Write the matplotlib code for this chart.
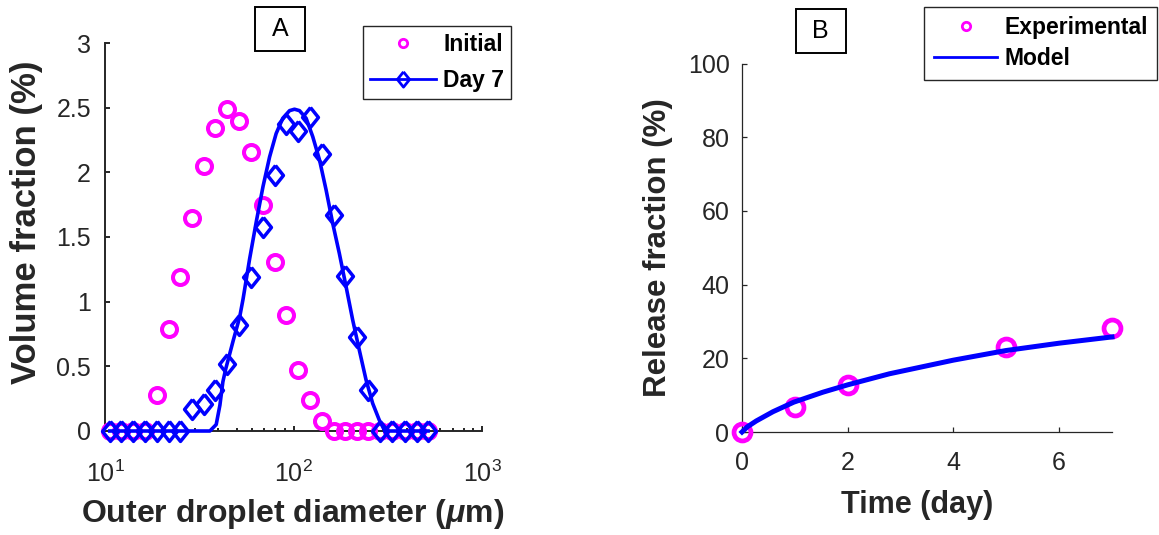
import matplotlib
matplotlib.use('Agg')
import matplotlib.pyplot as plt
from matplotlib.lines import Line2D
from matplotlib.patches import Rectangle

plt.rcParams['font.family'] = ['Liberation Sans', 'DejaVu Sans']
plt.rcParams['mathtext.fontset'] = 'custom'
plt.rcParams['mathtext.rm'] = 'Liberation Sans'
plt.rcParams['mathtext.it'] = 'Liberation Sans:italic:bold'
plt.rcParams['mathtext.bf'] = 'Liberation Sans:bold'

# ---------------- data ----------------
# Panel A: droplet size distribution
diameter_um = [10.6, 12.2, 14.1, 16.3, 18.9, 21.8, 25.1, 29.0, 33.5, 38.5,
               44.6, 51.5, 59.4, 68.5, 79.4, 91.4, 105.9, 122.2, 141.3, 163.3,
               187.5, 216.8, 248.9, 288.4, 335.0, 389.0, 449.8, 517.6]
initial_pct = [0, 0, 0, 0, 0.28, 0.79, 1.19, 1.65, 2.05, 2.34,
               2.49, 2.40, 2.16, 1.75, 1.31, 0.90, 0.47, 0.24, 0.08, 0,
               0, 0, 0, 0, 0, 0, 0, 0]
day7_pct = [0, 0, 0, 0, 0, 0, 0, 0.17, 0.21, 0.32,
            0.52, 0.82, 1.19, 1.58, 1.98, 2.37, 2.32, 2.43, 2.14, 1.67,
            1.20, 0.73, 0.32, 0, 0, 0, 0, 0]
model_diameter_um = [10.6, 22.4, 36.0, 38.9, 40.7, 42.2, 43.7, 45.0, 47.9, 51.8,
                     54.0, 58.5, 63.5, 68.9, 74.7, 80.9, 87.7, 95.3, 101.2, 107.6,
                     116.7, 126.5, 137.4, 148.9, 161.4, 175.0, 190.1, 206.1, 223.4, 242.7,
                     263.0, 285.1, 302.7, 316.2, 517.6]
model_day7_pct = [0, 0, 0.0, 0.05, 0.20, 0.38, 0.48, 0.55, 0.70, 0.88,
                  1.02, 1.33, 1.62, 1.89, 2.12, 2.30, 2.418, 2.477, 2.488, 2.477,
                  2.418, 2.276, 2.096, 1.864, 1.606, 1.374, 1.116, 0.858, 0.626, 0.394,
                  0.214, 0.085, 0.01, 0, 0]

# Panel B: release kinetics
time_day = [0, 1, 2, 5, 7]
release_pct = [0, 6.9, 12.8, 23.1, 28.2]
model_time_day = [0, 0.1, 0.27, 0.585, 0.98, 1.53, 2.0, 2.79, 4.0, 4.99, 6.0, 7.0]
model_release_pct = [0, 1.4, 3.0, 5.5, 8.1, 10.8, 12.8, 15.8, 19.5, 22.1, 24.1, 25.8]

a_yticks = [0, 0.5, 1, 1.5, 2, 2.5, 3]
a_yticklabels = ['0', '0.5', '1', '1.5', '2', '2.5', '3']
a_xticks = [10, 100, 1000]
a_xticklabels = ['$10^{1}$', '$10^{2}$', '$10^{3}$']
b_xticks = [0, 2, 4, 6]
b_yticks = [0, 20, 40, 60, 80, 100]

MAG = '#FF00FF'
BLUE = '#0000FF'
GREY = '#262626'

W, H = 1159, 535
fig = plt.figure(figsize=(W / 100, H / 100), dpi=100)


def fx(px):
    return px / W


def fy(py):
    return 1 - py / H


axA = fig.add_axes([fx(105), fy(431), (482 - 105) / W, (431 - 43) / H])
axB = fig.add_axes([fx(742), fy(432), (1112 - 742) / W, (432 - 63.5) / H])

diamond = [(0, 1), (0.8, 0), (0, -1), (-0.8, 0), (0, 1)]

# ---- Panel A ----
axA.plot(diameter_um, initial_pct, ls='none', marker='o', ms=10.8, mfc='none',
         mec=MAG, mew=2.9, clip_on=False, zorder=3)
axA.plot(model_diameter_um, model_day7_pct, color=BLUE, lw=2.6, clip_on=False, zorder=4)
axA.plot(diameter_um, day7_pct, ls='none', marker=diamond, ms=14.3, mfc='none',
         mec=BLUE, mew=2.5, clip_on=False, zorder=5)
axA.set_xscale('log')
axA.set_xlim(10, 1000)
axA.set_ylim(0, 3)
axA.set_yticks(a_yticks)
axA.set_yticklabels(a_yticklabels)
axA.set_xticks(a_xticks)
axA.set_xticklabels(a_xticklabels)

# ---- Panel B ----
axB.plot(time_day, release_pct, ls='none', marker='o', ms=12.2, mfc='none',
         mec=MAG, mew=3.4, clip_on=False, zorder=3)
axB.plot(model_time_day, model_release_pct, color=BLUE, lw=3.6, clip_on=False, zorder=4,
         solid_joinstyle='round')
axB.set_xlim(0, 7)
axB.set_ylim(0, 100)
axB.set_xticks(b_xticks)
axB.set_yticks(b_yticks)

for ax, lw in ((axA, 1.4), (axB, 0.9)):
    for s in ('top', 'right'):
        ax.spines[s].set_visible(False)
    for s in ('left', 'bottom'):
        ax.spines[s].set_color(GREY)
        ax.spines[s].set_linewidth(lw)
    ax.tick_params(which='major', direction='in', length=3.8, width=lw,
                   colors=GREY, labelsize=18)
    ax.tick_params(which='minor', direction='in', length=2.2, width=lw, colors=GREY)
    ax.set_facecolor('none')

axA.tick_params(axis='y', pad=10)
axA.tick_params(axis='x', pad=21)
axB.tick_params(axis='y', pad=9)
axB.tick_params(axis='x', pad=14)

# ---- axis labels ----
lab = dict(fontweight='bold', color=GREY)
fig.text(fx(292.5), fy(521.7), 'Outer droplet diameter ($\\mu$m)', ha='center',
         va='baseline', fontsize=23, **lab)
fig.text(fx(917.5), fy(513.3), 'Time (day)', ha='center', va='baseline', fontsize=22, **lab)
fig.text(fx(36), fy(222), 'Volume fraction (%)', rotation=90, rotation_mode='anchor',
         ha='center', va='baseline', fontsize=25, **lab)
fig.text(fx(666), fy(248), 'Release fraction (%)', rotation=90, rotation_mode='anchor',
         ha='center', va='baseline', fontsize=22.5, **lab)

# ---- panel letters ----
for (x0, y0, x1, y1, letter) in ((255, 7.3, 305, 50.7, 'A'), (795.7, 9.3, 845.7, 52.7, 'B')):
    fig.patches.append(Rectangle((fx(x0), fy(y1)), (x1 - x0) / W, (y1 - y0) / H,
                                 transform=fig.transFigure, facecolor='white',
                                 edgecolor='black', lw=1.4))
    fig.text(fx((x0 + x1) / 2), fy((y0 + y1) / 2), letter, ha='center', va='center',
             fontsize=18, color='black')

# ---- legends ----
legprop = {'weight': 'bold', 'size': 16.5}
hA = [Line2D([], [], ls='none', marker='o', ms=6, mfc='none', mec=MAG, mew=2.0),
      Line2D([], [], color=BLUE, lw=2.0, marker=diamond, ms=11, mfc='none', mec=BLUE, mew=2.0)]
legA = axA.legend(hA, ['Initial', 'Day 7'], loc='upper left',
                  bbox_to_anchor=(fx(363), fy(25.7)), bbox_transform=fig.transFigure,
                  prop=legprop, frameon=True, fancybox=False, edgecolor=GREY,
                  framealpha=1, borderpad=0.3, handlelength=2.9, handletextpad=0.3,
                  labelspacing=0.58, borderaxespad=0)
legA.get_frame().set_linewidth(1.0)

hB = [Line2D([], [], ls='none', marker='o', ms=6, mfc='none', mec=MAG, mew=2.0),
      Line2D([], [], color=BLUE, lw=2.0)]
legB = axB.legend(hB, ['Experimental', 'Model'], loc='upper left',
                  bbox_to_anchor=(fx(924.3), fy(6.7)), bbox_transform=fig.transFigure,
                  prop=legprop, frameon=True, fancybox=False, edgecolor=GREY,
                  framealpha=1, borderpad=0.42, handlelength=2.76, handletextpad=0.3,
                  labelspacing=0.35, borderaxespad=0)
legB.get_frame().set_linewidth(1.0)
for t in legA.get_texts() + legB.get_texts():
    t.set_color('black')

fig.savefig('out.png', dpi=100)
